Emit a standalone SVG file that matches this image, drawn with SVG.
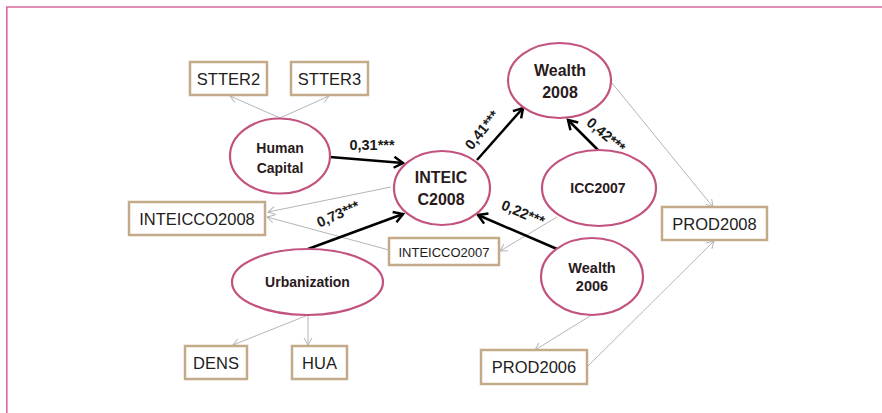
<svg xmlns="http://www.w3.org/2000/svg" width="882" height="413" viewBox="0 0 882 413">
<defs>
<marker id="ag" viewBox="-10 -10 20 20" markerWidth="20" markerHeight="20" refX="0" refY="0" orient="auto" markerUnits="userSpaceOnUse" overflow="visible">
<path d="M-7,-4 L0,0 L-7,4" fill="none" stroke="#b5b5b5" stroke-width="1"/>
</marker>
<marker id="ab" viewBox="-12 -12 24 24" markerWidth="24" markerHeight="24" refX="0" refY="0" orient="auto" markerUnits="userSpaceOnUse" overflow="visible">
<path d="M-9,-5.5 L0,0 L-9,5.5" fill="none" stroke="#000" stroke-width="2.5" stroke-linejoin="miter"/>
</marker>
</defs>
<style>
.frame{stroke:#d8689f;stroke-width:1.6;fill:none}
.box{fill:#fff;stroke:#c3ab8a;stroke-width:2.5}
.ell{fill:#fff;stroke:#c2527f;stroke-width:2.2}
.bt{font-family:"Liberation Sans",Arial,sans-serif;font-size:16.5px;fill:#231c1c;text-anchor:middle}
.et{font-family:"Liberation Sans",Arial,sans-serif;font-weight:bold;fill:#2a1a1c;text-anchor:middle}
.lab{font-family:"Liberation Sans",Arial,sans-serif;font-weight:bold;font-size:14.5px;fill:#1a1a1a;text-anchor:middle}
.gl{stroke:#b5b5b5;stroke-width:1;fill:none;marker-end:url(#ag)}
.bl{stroke:#000;stroke-width:2.5;fill:none;marker-end:url(#ab)}
</style>
<rect x="0" y="0" width="882" height="413" fill="#fff"/>
<path class="frame" d="M6,7 H882 M6.8,6.5 V413"/>
<g id="connectors">
<path class="gl" d="M280,118 L230,96"/>
<path class="gl" d="M280,118 L329,96"/>
<path class="gl" d="M391,187 L268,212"/>
<path class="gl" d="M389,250 L267,217"/>
<path class="gl" d="M557,217 L500,251"/>
<path class="gl" d="M308,315 L233,345"/>
<path class="gl" d="M308,315 L308,345"/>
<path class="gl" d="M590,316 L535,350"/>
<path class="gl" d="M587,367 L714,241"/>
<path class="gl" d="M612,83 L713,207"/>
<path class="bl" d="M330,157 L403,163"/>
<path class="bl" d="M308,249 L403,214"/>
<path class="bl" d="M477,160 L523,108"/>
<path class="bl" d="M598,150 L568,120"/>
<path class="bl" d="M557,249 L478,215"/>
</g>
<g id="labels">
<text class="lab" x="372" y="150">0,31***</text>
<text class="lab" transform="translate(482,130) rotate(-51)" x="0" y="5">0,41***</text>
<text class="lab" transform="translate(606,135) rotate(40)" x="0" y="5">0,42***</text>
<text class="lab" transform="translate(523,213) rotate(23)" x="0" y="5">0,22***</text>
<text class="lab" transform="translate(338,214) rotate(-24)" x="0" y="5">0,73***</text>
</g>
<g id="STTER2"><rect class="box" x="190" y="62" width="77" height="33"/><text class="bt" x="228.5" y="84.5">STTER2</text></g>
<g id="STTER3"><rect class="box" x="291" y="62" width="77" height="33"/><text class="bt" x="329.5" y="84.5">STTER3</text></g>
<g id="INTEICCO2008"><rect class="box" x="129" y="202" width="136" height="33"/><text class="bt" x="197" y="224.5">INTEICCO2008</text></g>
<g id="INTEICCO2007"><rect class="box" x="389" y="238" width="110" height="27"/><text class="bt" x="444" y="256.5" style="font-size:13px">INTEICCO2007</text></g>
<g id="DENS"><rect class="box" x="185" y="346" width="62" height="33"/><text class="bt" x="216" y="368.5">DENS</text></g>
<g id="HUA"><rect class="box" x="292" y="346" width="55" height="33"/><text class="bt" x="319.5" y="368.5">HUA</text></g>
<g id="PROD2006"><rect class="box" x="481" y="350" width="106" height="34"/><text class="bt" x="534" y="373">PROD2006</text></g>
<g id="PROD2008"><rect class="box" x="662" y="207" width="105" height="33"/><text class="bt" x="714.5" y="229.5">PROD2008</text></g>
<g id="HumanCapital"><ellipse class="ell" cx="280" cy="156" rx="50" ry="37.5"/><text class="et" x="280" y="153" style="font-size:14px">Human</text><text class="et" x="280" y="173" style="font-size:14px">Capital</text></g>
<g id="INTEICC2008"><ellipse class="ell" cx="442" cy="188" rx="48" ry="37"/><text class="et" x="441" y="183" style="font-size:16px">INTEIC</text><text class="et" x="441" y="205" style="font-size:16px">C2008</text></g>
<g id="Wealth2008"><ellipse class="ell" cx="559.5" cy="80.5" rx="51.5" ry="37.5"/><text class="et" x="560" y="76" style="font-size:16px">Wealth</text><text class="et" x="560" y="98" style="font-size:16px">2008</text></g>
<g id="ICC2007"><ellipse class="ell" cx="599" cy="188" rx="57" ry="38"/><text class="et" x="598" y="193" style="font-size:14px">ICC2007</text></g>
<g id="Wealth2006"><ellipse class="ell" cx="592" cy="276.5" rx="51" ry="38.5"/><text class="et" x="592" y="272.5" style="font-size:14.5px">Wealth</text><text class="et" x="592" y="291" style="font-size:14.5px">2006</text></g>
<g id="Urbanization"><ellipse class="ell" cx="307.5" cy="282" rx="75.5" ry="33"/><text class="et" x="307.5" y="287" style="font-size:14px">Urbanization</text></g>
</svg>
